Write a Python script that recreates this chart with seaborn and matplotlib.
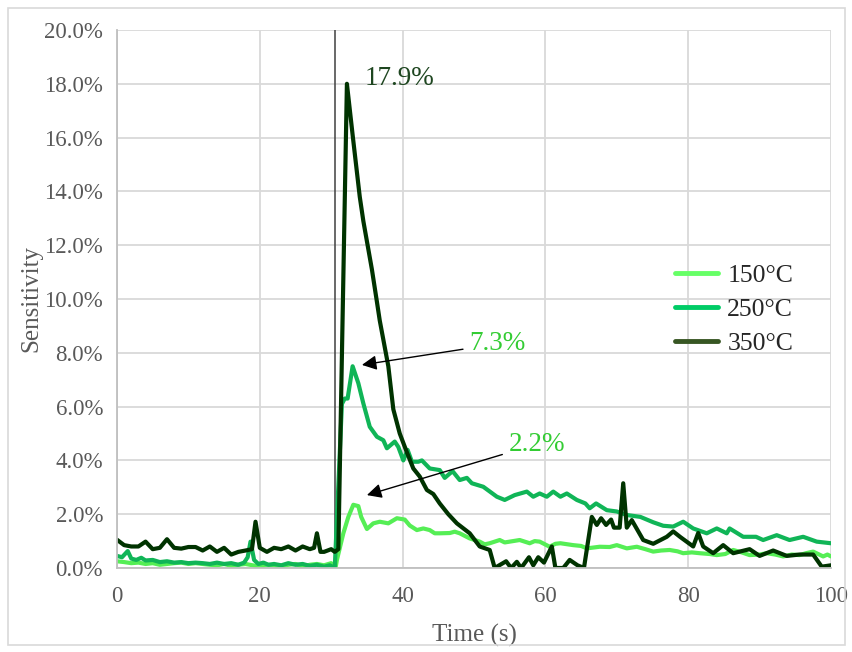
import matplotlib
matplotlib.use("Agg")
import matplotlib.pyplot as plt
from matplotlib.lines import Line2D
from matplotlib.patches import Rectangle
import seaborn as sns
import pandas as pd

# ---------------- data (time in s, sensitivity in %) ----------------
t150 = [0, 1, 2, 3, 4, 5, 6, 7, 8, 9, 10, 11, 12, 13, 14, 15, 16, 17, 18, 19, 20,
        21, 22, 23, 24, 25, 26, 27, 28, 29, 30, 30.6, 30.8, 31.7, 32.4, 33.1, 33.8,
        34.2, 35.0, 35.9, 36.8, 38.0, 39.2, 40.3, 41.0, 42.0, 42.9, 43.8, 44.5, 45.2,
        46.6, 47.3, 48.0, 49.4, 50.8, 51.5, 52.2, 53.6, 54.3, 55.0, 56.4, 57.8, 58.5,
        59.2, 60.6, 61.4, 62.1, 63.9, 65.0, 65.8, 67.6, 69.0, 70.0, 71.4, 72.8, 74.0,
        75.1, 76.2, 77.4, 78.5, 79.3, 80.5, 81.6, 83.0, 84.0, 85.2, 86.3, 87.5, 88.6,
        90.0, 91.0, 92.2, 93.3, 94.5, 95.6, 96.5, 97.5, 98.9, 99.5, 100]
v150 = [0.25, 0.22, 0.18, 0.2, 0.15, 0.18, 0.12, 0.15, 0.18, 0.2, 0.15, 0.18, 0.15,
        0.12, 0.1, 0.15, 0.08, 0.12, 0.15, 0.1, 0.05, 0.12, 0.1, 0.05, 0.12, 0.15,
        0.05, 0.12, 0.15, 0.1, 0.18, 0.0, 0.3, 1.29, 1.9, 2.35, 2.3, 1.9, 1.45, 1.66,
        1.72, 1.66, 1.85, 1.8, 1.58, 1.41, 1.47, 1.41, 1.29, 1.29, 1.3, 1.35, 1.29,
        1.1, 0.98, 0.88, 0.92, 1.04, 0.95, 0.98, 1.04, 0.92, 1.0, 0.98, 0.79, 0.9,
        0.92, 0.85, 0.82, 0.73, 0.79, 0.78, 0.85, 0.73, 0.79, 0.7, 0.61, 0.65, 0.67,
        0.62, 0.55, 0.58, 0.55, 0.52, 0.48, 0.52, 0.67, 0.58, 0.48, 0.5, 0.55, 0.5,
        0.43, 0.5, 0.48, 0.55, 0.61, 0.43, 0.5, 0.43]

t250 = [0, 0.7, 1.5, 2, 2.7, 3.4, 4, 5, 6, 7, 8, 9, 10, 11, 12, 13, 14, 15, 16, 17,
        17.8, 18.3, 18.7, 19.2, 19.8, 20.5, 21.2, 22, 23, 24, 25, 26, 27, 28, 29,
        29.8, 30.5, 31.5, 31.9, 32.3, 33.0, 33.8, 34.5, 35.4, 36.4, 37.3, 37.8, 38.9,
        39.4, 40.1, 40.7, 41.3, 42.2, 42.7, 43.8, 45.2, 45.9, 47.0, 48.0, 49.0, 49.7,
        51.3, 53.2, 54.3, 55.7, 57.4, 58.3, 59.2, 60.2, 61.1, 62.1, 63.0, 64.4, 65.6,
        66.2, 67.1, 68.6, 70.0, 71.4, 73.3, 75.1, 76.5, 77.9, 79.3, 80.7, 82.6, 84.0,
        85.4, 85.8, 87.7, 89.5, 90.5, 92.4, 94.2, 96.1, 98.0, 100]
v250 = [0.45, 0.4, 0.63, 0.35, 0.3, 0.38, 0.28, 0.3, 0.22, 0.25, 0.2, 0.22, 0.18,
        0.2, 0.18, 0.15, 0.2, 0.15, 0.18, 0.12, 0.2, 0.4, 0.98, 0.3, 0.15, 0.2, 0.12,
        0.15, 0.1, 0.18, 0.12, 0.15, 0.08, 0.12, 0.05, 0.1, 0.0, 6.1, 6.3, 6.3, 7.5,
        6.87, 6.12, 5.25, 4.88, 4.75, 4.45, 4.7, 4.5, 4.0, 4.39, 3.95, 3.95, 4.0, 3.7,
        3.64, 3.35, 3.6, 3.27, 3.35, 3.15, 3.02, 2.65, 2.53, 2.71, 2.84, 2.65, 2.77,
        2.65, 2.84, 2.65, 2.77, 2.53, 2.4, 2.22, 2.4, 2.15, 2.1, 1.97, 1.9, 1.7, 1.57,
        1.54, 1.72, 1.47, 1.29, 1.47, 1.29, 1.47, 1.16, 1.16, 1.04, 1.22, 1.04, 1.16,
        0.98, 0.92]

t350 = [0, 1, 2, 3, 4, 5, 6, 7, 8, 9, 10, 11, 12, 13, 14, 15, 16, 17, 18, 18.9,
        19.4, 20, 21, 22, 23, 24, 25, 26, 27, 27.6, 28, 28.5, 29, 30, 30.5, 31.0,
        32.2, 33.0, 34.0, 34.5, 35.7, 36.4, 36.8, 38.0, 38.7, 39.6, 40.6, 41.5,
        42.4, 43.4, 44.3, 45.2, 46.4, 47.6, 49.4, 50.8, 52.2, 52.9, 54.5, 55.2, 56.0,
        56.6, 57.7, 58.3, 59.0, 59.8, 60.9, 61.4, 62.5, 63.4, 64.5, 65.4, 66.5, 67.2,
        67.8, 68.5, 69.2, 69.6, 70.4, 70.9, 71.4, 72.1, 73.7, 75.1, 77.0, 77.9, 78.9,
        80.7, 81.4, 82.1, 83.5, 84.9, 86.3, 88.6, 90.0, 91.9, 93.8, 95.6, 97.5, 98.7,
        100]
v350 = [1.05, 0.85, 0.8, 0.8, 0.98, 0.7, 0.75, 1.07, 0.75, 0.72, 0.78, 0.78, 0.65,
        0.8, 0.6, 0.75, 0.5, 0.6, 0.65, 0.7, 1.72, 0.75, 0.6, 0.75, 0.7, 0.8, 0.65,
        0.8, 0.7, 0.75, 1.29, 0.6, 0.6, 0.7, 0.6, 0.7, 18.0, 16.1, 13.8, 12.9,
        11.1, 9.9, 9.2, 7.5, 5.9, 5.0, 4.3, 3.7, 3.4, 2.9, 2.75, 2.4, 2.0, 1.66, 1.29,
        0.8, 0.67, 0.0, 0.25, 0.0, 0.23, 0.0, 0.4, 0.1, 0.4, 0.2, 0.8, 0.0, 0.0, 0.3,
        0.1, 0.0, 1.9, 1.6, 1.85, 1.6, 1.8, 1.5, 1.5, 3.15, 1.5, 1.78, 1.04, 0.9, 1.16,
        1.36, 1.15, 0.8, 1.3, 0.8, 0.55, 0.85, 0.55, 0.7, 0.45, 0.65, 0.45, 0.5, 0.5,
        0.05, 0.1]

series_names = ["150°C", "250°C", "350°C"]
x_ticks = [0, 20, 40, 60, 80, 100]
y_ticks = [0, 2, 4, 6, 8, 10, 12, 14, 16, 18, 20]
gas_on_time = 30.5
peak_labels = ["17.9%", "7.3%", "2.2%"]

# ---------------- build long-form table ----------------
df = pd.concat([
    pd.DataFrame({"Time": t150, "Sensitivity": v150, "Temp": series_names[0]}),
    pd.DataFrame({"Time": t250, "Sensitivity": v250, "Temp": series_names[1]}),
    pd.DataFrame({"Time": t350, "Sensitivity": v350, "Temp": series_names[2]}),
], ignore_index=True)

line_colors = {"150°C": "#55EE55", "250°C": "#10B557", "350°C": "#003300"}
legend_colors = {"150°C": "#66FF66", "250°C": "#00CC66", "350°C": "#375623"}

sns.set_theme(style="white")
plt.rcParams["font.family"] = ["Liberation Serif", "DejaVu Serif"]

fig = plt.figure(figsize=(8.53, 6.52), dpi=100)
ax = fig.add_axes([117 / 853, 1 - 568 / 652, 714 / 853, 538 / 652])

sns.lineplot(data=df, x="Time", y="Sensitivity", hue="Temp", palette=line_colors,
             estimator=None, sort=False, lw=3, ax=ax, legend=False)

ax.axvline(gas_on_time, color="#404040", lw=1.1, zorder=1)

ax.set_xlim(0, 100)
ax.set_ylim(0, 20)
ax.set_xticks(x_ticks)
ax.set_xticklabels([str(v) for v in x_ticks])
ax.set_yticks(y_ticks)
ax.set_yticklabels([f"{v:.1f}%" for v in y_ticks])
ax.tick_params(length=0, labelsize=16.5, labelcolor="#595959")
ax.tick_params(axis="x", pad=13)
ax.tick_params(axis="y", pad=10)
ax.grid(True, color="#D9D9D9", lw=1.3)
ax.set_axisbelow(True)
for s in ["top", "right"]:
    ax.spines[s].set_visible(False)
for s in ["left", "bottom"]:
    ax.spines[s].set_color("#BFBFBF")
    ax.spines[s].set_linewidth(1.3)

ax.set_xlabel("Time (s)", fontsize=18, color="#595959", labelpad=12)
ax.set_ylabel("Sensitivity", fontsize=18, color="#595959")
ax.yaxis.set_label_coords(-0.105, 0.5)

# annotations
ax.text(34.7, 18.2, peak_labels[0], fontsize=19.5, color="#1E4620", va="center", ha="left")
ax.annotate(peak_labels[1], xy=(34.3, 7.55), xytext=(49.3, 8.33), fontsize=19.5,
            color="#33CC33", va="center", ha="left",
            arrowprops=dict(arrowstyle="-|>", color="black", lw=1.0, mutation_scale=22,
                            shrinkA=2, shrinkB=0))
ax.annotate(peak_labels[2], xy=(35.0, 2.71), xytext=(54.8, 4.6), fontsize=19.5,
            color="#33CC33", va="center", ha="left",
            arrowprops=dict(arrowstyle="-|>", color="black", lw=1.0, mutation_scale=22,
                            shrinkA=2, shrinkB=0))

handles = [Line2D([0], [0], color=legend_colors[n], lw=3.5) for n in series_names]
ax.legend(handles, series_names, loc="upper left", bbox_to_anchor=(0.781, 0.565),
          frameon=False, fontsize=18.5, handlelength=1.7, handletextpad=0.35,
          labelspacing=0.42, borderpad=0, borderaxespad=0)

fig.patches.append(Rectangle((8 / 853, 7 / 652), 837 / 853, 637 / 652,
                             transform=fig.transFigure, fill=False,
                             edgecolor="#D9D9D9", lw=1.2))

fig.savefig("out.png", dpi=100)
